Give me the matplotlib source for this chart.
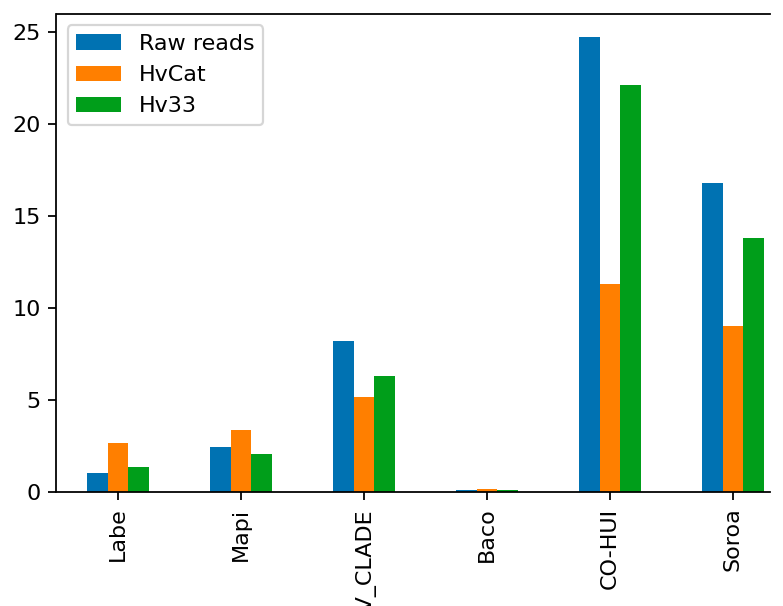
import matplotlib
matplotlib.use("Agg")
import matplotlib.pyplot as plt
import pandas as pd

# read counts per locality (millions)
sites = ["Labe", "Mapi", "HV_CLADE", "Baco", "CO-HUI", "Soroa"]
raw_reads = [1.03, 2.45, 8.2, 0.1, 24.73, 16.8]
hvcat = [2.66, 3.37, 5.16, 0.17, 11.3, 9.02]
hv33 = [1.36, 2.07, 6.3, 0.1, 22.12, 13.8]

colors = ["#0072b2", "#ff7f00", "#009e1a"]

df = pd.DataFrame({"Raw reads": raw_reads, "HvCat": hvcat, "Hv33": hv33}, index=sites)

W, H, DPI = 783, 606, 160
left_px, unit_px = 56.5, 123.0
right_px = 770
fig = plt.figure(figsize=(W / DPI, H / DPI), dpi=DPI)
ax = fig.add_axes([left_px / W, (H - 492) / H, (right_px - left_px) / W, 478 / H])
df.plot.bar(ax=ax, color=colors)
ax.set_xlim(-0.5, -0.5 + (right_px - left_px) / unit_px)
ax.spines["right"].set_visible(False)
ax.legend(loc="upper left")

fig.savefig("out.png", dpi=DPI)
plt.close(fig)
